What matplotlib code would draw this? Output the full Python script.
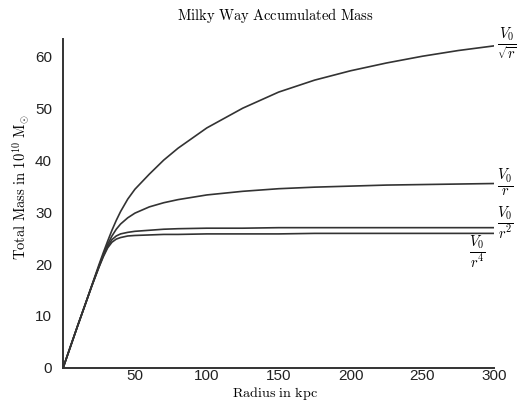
import matplotlib
matplotlib.use("Agg")
import matplotlib.pyplot as plt

plt.rcParams["mathtext.fontset"] = "cm"

# Enclosed mass (10^10 solar masses) versus radius (kpc) for four halo profiles
radius = [0, 5, 10, 15, 20, 25, 28, 31, 34, 37, 40, 45, 50, 60, 70, 80,
          100, 125, 150, 175, 200, 225, 250, 275, 300]
mass_r4 = [0, 4.0, 8.0, 11.9, 15.8, 19.4, 21.4, 23.1, 24.2, 24.8, 25.1, 25.4,
           25.5, 25.6, 25.7, 25.7, 25.8, 25.8, 25.8, 25.9, 25.9, 25.9, 25.9, 25.9, 25.9]
mass_r2 = [0, 4.0, 8.0, 11.9, 15.8, 19.5, 21.6, 23.4, 24.7, 25.4, 25.8, 26.1,
           26.3, 26.5, 26.7, 26.8, 26.9, 26.9, 27.0, 27.0, 27.0, 27.0, 27.0, 27.0, 27.0]
mass_r1 = [0, 4.0, 8.0, 11.9, 15.8, 19.6, 21.8, 23.8, 25.4, 26.7, 27.7, 28.9,
           29.8, 31.0, 31.8, 32.4, 33.3, 34.0, 34.5, 34.8, 35.0, 35.2, 35.3, 35.4, 35.5]
mass_rsqrt = [0, 4.0, 8.0, 11.9, 15.9, 19.9, 22.2, 24.4, 26.5, 28.4, 30.1, 32.5,
              34.4, 37.3, 40.0, 42.3, 46.2, 50.0, 53.1, 55.4, 57.2, 58.7, 60.0, 61.1, 62.0]

series = [
    (mass_rsqrt, r"$\frac{V_0}{\sqrt{r}}$", (302, 62.3), "left"),
    (mass_r1, r"$\frac{V_0}{r}$", (302, 35.6), "left"),
    (mass_r2, r"$\frac{V_0}{r^2}$", (302, 27.9), "left"),
    (mass_r4, r"$\frac{V_0}{r^4}$", (288, 22.2), "center"),
]

x_ticks = [0, 50, 100, 150, 200, 250, 300]
y_ticks = [0, 10, 20, 30, 40, 50, 60]

fig = plt.figure(figsize=(5.17, 4.03), dpi=100)
ax = fig.add_axes([0.122, 0.087, 0.834, 0.816])

for values, label, pos, ha in series:
    ax.plot(radius, values, color="#333333", lw=1.2)
    ax.text(pos[0], pos[1], label, fontsize=15, ha=ha, va="center",
            clip_on=False)

ax.set_xlim(0, 300)
ax.set_ylim(0, 63.3)
ax.set_xticks(x_ticks)
ax.set_xticklabels(["" if t == 0 else str(t) for t in x_ticks])
ax.set_yticks(y_ticks)
ax.tick_params(length=0, labelsize=11)
ax.tick_params(axis="y", pad=8)
ax.tick_params(axis="x", pad=1)
for lbl in ax.get_xticklabels() + ax.get_yticklabels():
    lbl.set_family("Liberation Sans")
    lbl.set_color("#222222")

for side in ("top", "right"):
    ax.spines[side].set_visible(False)
for side in ("left", "bottom"):
    ax.spines[side].set_linewidth(1.4)
    ax.spines[side].set_color("#333333")

fig.text(0.532, 0.962, r"$\mathrm{Milky\ Way\ Accumulated\ Mass}$",
         fontsize=10.5, ha="center", va="center")
fig.text(0.532, 0.024, r"$\mathrm{Radius\ in\ kpc}$",
         fontsize=10.2, ha="center", va="center")
fig.text(0.04, 0.535, r"$\mathrm{Total\ Mass\ in\ 10^{10}\ M_{\odot}}$",
         fontsize=10.5, ha="center", va="center", rotation=90)

fig.savefig("out.png", dpi=100)
